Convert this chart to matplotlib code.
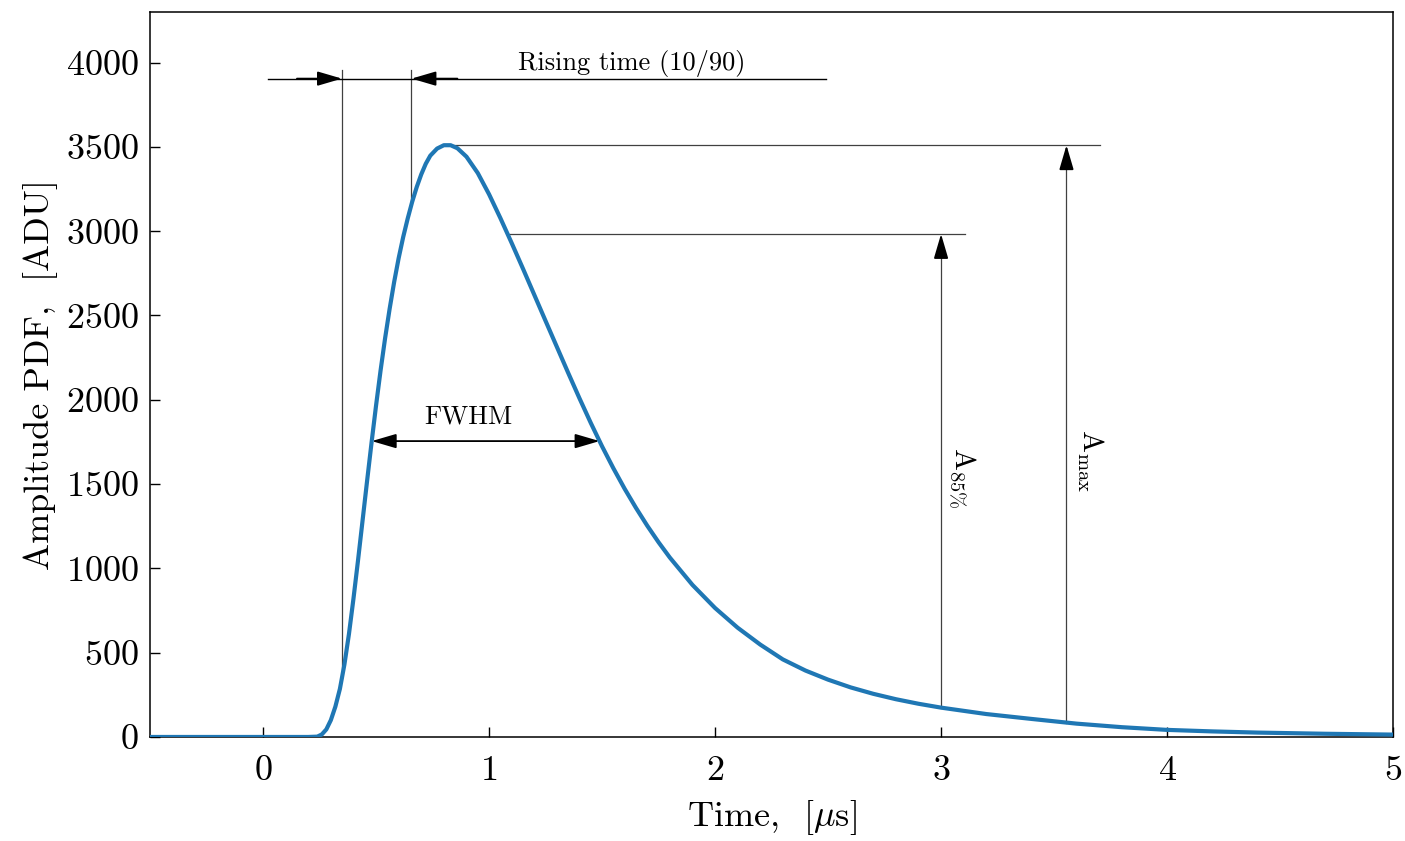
import matplotlib
matplotlib.use('Agg')
import matplotlib.pyplot as plt
import numpy as np

plt.rcParams['font.family'] = 'serif'
plt.rcParams['font.serif'] = ['cmr10', 'DejaVu Serif']
plt.rcParams['mathtext.fontset'] = 'cm'
plt.rcParams['axes.formatter.use_mathtext'] = True

# Pulse shape (time in us, amplitude in ADU)
time_us = [-0.5, 0.0, 0.2, 0.24, 0.26, 0.28, 0.30, 0.32, 0.34, 0.36, 0.38, 0.40,
           0.42, 0.44, 0.46, 0.48, 0.50, 0.52, 0.54, 0.56, 0.58, 0.60, 0.62, 0.64,
           0.66, 0.68, 0.70, 0.72, 0.74, 0.77, 0.80, 0.83, 0.86, 0.90, 0.95, 1.00,
           1.05, 1.10, 1.15, 1.20, 1.25, 1.30, 1.35, 1.40, 1.45, 1.50, 1.55, 1.60,
           1.65, 1.70, 1.75, 1.80, 1.90, 2.00, 2.10, 2.20, 2.30, 2.40, 2.50, 2.60,
           2.70, 2.80, 2.90, 3.00, 3.20, 3.40, 3.60, 3.80, 4.00, 4.20, 4.40, 4.70, 5.00]
amplitude = [0, 0, 0, 2, 15, 45, 100, 180, 285, 430, 610, 820,
             1045, 1280, 1515, 1745, 1966, 2174, 2365, 2539, 2698, 2840, 2965, 3075,
             3175, 3262, 3337, 3400, 3448, 3490, 3510, 3510, 3492, 3442, 3345, 3219,
             3078, 2930, 2778, 2623, 2468, 2314, 2160, 2009, 1863, 1724, 1594, 1472,
             1359, 1253, 1155, 1064, 902, 765, 648, 548, 460, 394, 340, 294,
             256, 224, 197, 174, 136, 107, 79, 58, 42, 33, 26, 19, 14]

# marker levels as fractions of the peak
rise_levels = [0.10, 0.90]
half_level = 0.5
level_85 = 0.85
t_arrow_85 = 3.0
t_arrow_max = 3.555

t = np.array(time_us)
a = np.array(amplitude)
i_pk = int(np.argmax(a))
a_max = a[i_pk]
t_pk = t[i_pk]


def cross_rise(level):
    return np.interp(level, a[:i_pk + 1], t[:i_pk + 1])


def cross_fall(level):
    return np.interp(level, a[i_pk:][::-1], t[i_pk:][::-1])


fig = plt.figure(figsize=(14.05, 8.41), dpi=100)
ax = fig.add_axes([0.1068, 0.1237, 0.8847, 0.862])

ax.plot(t, a, color='#1f77b4', lw=3, zorder=3)

line_kw = dict(color='k', lw=0.9, alpha=0.75)
head = dict(arrowstyle='-|>,head_length=0.75,head_width=0.22', color='k',
            lw=1.3, mutation_scale=20, shrinkA=0, shrinkB=0)

# rising time 10/90
y_rt = 3905
t10, t90 = [cross_rise(f * a_max) for f in rise_levels]
for f, tt in zip(rise_levels, (t10, t90)):
    ax.plot([tt, tt], [f * a_max, 3955], **line_kw)
ax.plot([0.02, 2.49], [y_rt, y_rt], color='k', lw=1.0)
ax.annotate('', xy=(t10, y_rt), xytext=(0.15, y_rt), arrowprops=head)
ax.annotate('', xy=(t90, y_rt), xytext=(0.86, y_rt), arrowprops=head)
ax.text(1.63, 3995, 'Rising time (10/90)', ha='center', va='center', fontsize=19)

# FWHM
half = half_level * a_max
tl, tr = cross_rise(half), cross_fall(half)
dbl = dict(head)
dbl['arrowstyle'] = '<|-|>,head_length=0.75,head_width=0.22'
ax.annotate('', xy=(tl, half), xytext=(tr, half), arrowprops=dbl)
ax.text(0.5 * (tl + tr) - 0.075, half + 145, 'FWHM', ha='center', va='center', fontsize=19)

# amplitude levels
a85 = level_85 * a_max
t85 = cross_fall(a85)
ax.plot([t_pk, 3.705], [a_max, a_max], **line_kw)
ax.plot([t85, 3.108], [a85, a85], **line_kw)
for tt, top in ((t_arrow_85, a85), (t_arrow_max, a_max)):
    base = np.interp(tt, t, a)
    ax.plot([tt, tt], [base, top - 100], **line_kw)
    ax.annotate('', xy=(tt, top), xytext=(tt, top - 120), arrowprops=head)
ax.text(3.095, 1540, r'$\mathrm{A_{85\%}}$', rotation=-90, ha='center', va='center', fontsize=21)
ax.text(3.66, 1640, r'$\mathrm{A_{max}}$', rotation=-90, ha='center', va='center', fontsize=21)

ax.set_xlim(-0.5, 5)
ax.set_ylim(0, 4300)
ax.set_xticks([0, 1, 2, 3, 4, 5])
ax.set_yticks(np.arange(0, 4001, 500))
ax.tick_params(direction='in', length=7, width=1, labelsize=26, pad=8)
ax.tick_params(axis='x', pad=13)
for s in ax.spines.values():
    s.set_linewidth(1.1)
ax.set_xlabel(r'Time,  [$\mu$s]', fontsize=26, labelpad=8)
ax.set_ylabel('Amplitude PDF,  [ADU]', fontsize=26, labelpad=6)

fig.savefig('out.png', dpi=100)
